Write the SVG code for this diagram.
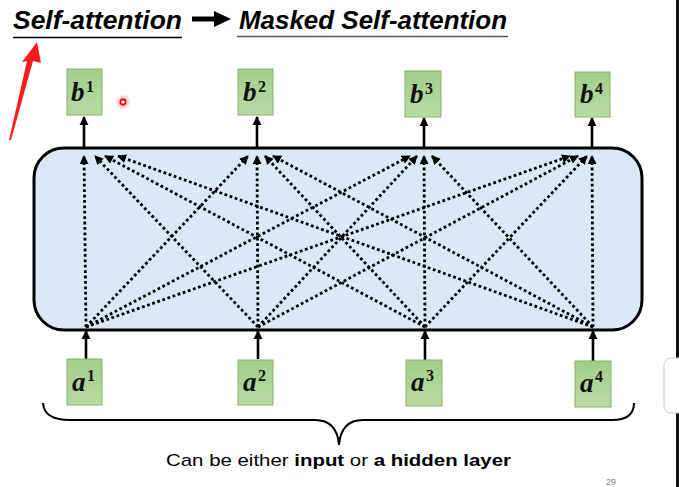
<svg xmlns="http://www.w3.org/2000/svg" width="679" height="487" viewBox="0 0 679 487">
<defs>
<linearGradient id="g" x1="0" y1="0" x2="0" y2="1"><stop offset="0" stop-color="#a3cd8a"/><stop offset="1" stop-color="#b9dba3"/></linearGradient>
<marker id="ah" viewBox="0 0 10 10" refX="9" refY="5" markerWidth="3.2" markerHeight="3.2" orient="auto" markerUnits="strokeWidth"><path d="M0,0 L10,5 L0,10 z" fill="#000"/></marker>
<marker id="ahs" viewBox="0 0 10 10" refX="9" refY="5" markerWidth="3.6" markerHeight="3.6" orient="auto" markerUnits="strokeWidth"><path d="M0,0 L10,5 L0,10 z" fill="#000"/></marker>
<radialGradient id="glow"><stop offset="0.3" stop-color="#ff6060" stop-opacity="0.6"/><stop offset="1" stop-color="#ff8080" stop-opacity="0"/></radialGradient>
</defs>
<style>
.box{fill:url(#g);stroke:#86b26c;stroke-width:1}
.lbl{font-family:"Liberation Serif",serif;font-weight:bold;font-style:italic;font-size:27px;fill:#111}
.sup{font-family:"Liberation Serif",serif;font-weight:bold;font-size:16px;fill:#111}
.dot{fill:none;stroke:#000;stroke-width:2.8;stroke-dasharray:2.8 2.6;marker-end:url(#ah)}
.sol{fill:none;stroke:#000;stroke-width:2.6;marker-end:url(#ahs)}
.title{font-family:"Liberation Sans",sans-serif;font-weight:bold;font-style:italic;font-size:25px;fill:#000}
</style>
<rect width="679" height="487" fill="#fff"/>
<!-- title -->
<g id="title">
<text class="title" x="13" y="29" textLength="169" lengthAdjust="spacingAndGlyphs">Self-attention</text>
<line x1="13" y1="37.5" x2="182" y2="37.5" stroke="#000" stroke-width="1.5"/>
<path d="M192,19 L216,19" stroke="#000" stroke-width="5"/>
<path d="M214,11 L231,19 L214,27 z" fill="#000"/>
<text class="title" x="239" y="29" textLength="268" lengthAdjust="spacingAndGlyphs">Masked Self-attention</text>
<line x1="237" y1="36.5" x2="508" y2="36.5" stroke="#555" stroke-width="1.5"/>
</g>
<!-- red annotation -->
<g id="annot">
<polygon points="9,140 27,61 22,62 37,42 41,63 33,61 11,140" fill="#ff1a1a"/>
<circle cx="123" cy="102" r="8" fill="url(#glow)"/>
<circle cx="123" cy="102" r="2.6" fill="#fff" stroke="#e00" stroke-width="1.6"/>
</g>
<!-- panel -->
<g id="attention">
<rect x="34" y="148" width="608" height="182" rx="30" ry="30" fill="#dbe9f6" stroke="#000" stroke-width="3"/>
</g>
<!-- connectors -->
<g id="connectors">
<path class="dot" d="M86,327 L84,156"/>
<path class="dot" d="M258,327 L95,156"/>
<path class="dot" d="M425,327 L105,156"/>
<path class="dot" d="M593,327 L118,156"/>
<path class="dot" d="M86,327 L248,156"/>
<path class="dot" d="M258,327 L257,156"/>
<path class="dot" d="M425,327 L265,156"/>
<path class="dot" d="M593,327 L273,156"/>
<path class="dot" d="M86,327 L410,156"/>
<path class="dot" d="M258,327 L417,156"/>
<path class="dot" d="M425,327 L424,156"/>
<path class="dot" d="M593,327 L432,156"/>
<path class="dot" d="M86,327 L570,156"/>
<path class="dot" d="M258,327 L578,156"/>
<path class="dot" d="M425,327 L587,156"/>
<path class="dot" d="M593,327 L592,156"/>
<path class="sol" d="M84,147 L84,117"/>
<path class="sol" d="M257,147 L257,117"/>
<path class="sol" d="M424,147 L424,118"/>
<path class="sol" d="M592,147 L592,118"/>
<path class="sol" d="M86,359 L86,331"/>
<path class="sol" d="M258,359 L258,331"/>
<path class="sol" d="M425,360 L425,331"/>
<path class="sol" d="M593,361 L593,331"/>
</g>
<!-- output nodes -->
<g id="b1"><rect class="box" x="67" y="69" width="35" height="46"/><text class="lbl" x="71" y="101">b</text><text class="sup" x="86" y="92">1</text></g>
<g id="b2"><rect class="box" x="238" y="69" width="35" height="46"/><text class="lbl" x="243" y="101">b</text><text class="sup" x="258" y="92">2</text></g>
<g id="b3"><rect class="box" x="405" y="71" width="36" height="46"/><text class="lbl" x="410" y="103">b</text><text class="sup" x="425" y="94">3</text></g>
<g id="b4"><rect class="box" x="575" y="72" width="35" height="45"/><text class="lbl" x="580" y="103">b</text><text class="sup" x="595" y="94">4</text></g>
<!-- input nodes -->
<g id="a1"><rect class="box" x="67" y="359" width="35" height="46"/><text class="lbl" x="72" y="391">a</text><text class="sup" x="87" y="381">1</text></g>
<g id="a2"><rect class="box" x="238" y="360" width="35" height="45"/><text class="lbl" x="243" y="391">a</text><text class="sup" x="258" y="381">2</text></g>
<g id="a3"><rect class="box" x="406" y="360" width="36" height="46"/><text class="lbl" x="411" y="391">a</text><text class="sup" x="426" y="381">3</text></g>
<g id="a4"><rect class="box" x="575" y="361" width="36" height="46"/><text class="lbl" x="580" y="392">a</text><text class="sup" x="595" y="382">4</text></g>
<!-- brace -->
<g id="brace">
<path d="M43,403 Q44,420 70,420 L315,420 Q337,420 339,445 Q341,420 363,420 L612,420 Q634,420 634,403" fill="none" stroke="#000" stroke-width="2"/>
<text x="166" y="466" font-family="'Liberation Sans',sans-serif" font-size="17" fill="#000" textLength="345" lengthAdjust="spacingAndGlyphs">Can be either <tspan font-weight="bold">input</tspan> or <tspan font-weight="bold">a hidden layer</tspan></text>
</g>
<text x="606" y="485" font-family="'Liberation Sans',sans-serif" font-size="9" fill="#888">29</text>
<!-- right edge -->
<rect x="676" y="0" width="3" height="487" fill="#111"/>
<rect x="664" y="358" width="22" height="55" rx="7" fill="#fff" stroke="#ccc" stroke-width="1"/>
</svg>
